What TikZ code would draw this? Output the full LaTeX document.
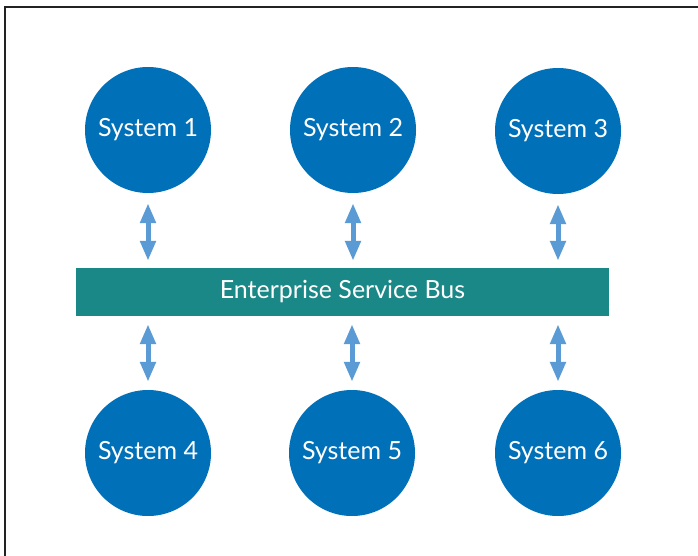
\documentclass[tikz,border=0pt]{standalone}
\usepackage{fontspec}
\setmainfont{Lato}
\usetikzlibrary{arrows.meta}
\definecolor{sysblue}{HTML}{0070B9}
\definecolor{busteal}{HTML}{1A8886}
\definecolor{arrblue}{HTML}{5B9BD5}
\definecolor{frame}{HTML}{222222}
\begin{document}
\begin{tikzpicture}[x=1pt,y=-1pt,
  sys/.style={circle,fill=sysblue,draw=none,minimum size=126pt,inner sep=0pt,text=white,font=\fontsize{25}{30}\selectfont},
  bus/.style={rectangle,fill=busteal,draw=none,minimum width=533pt,minimum height=48pt,inner sep=0pt,text=white,font=\fontsize{25}{30}\selectfont},
  biarrow/.style={draw=arrblue,line width=5pt,{Triangle[length=20pt,width=15pt]}-{Triangle[length=20pt,width=15pt]}}
]
\useasboundingbox (0,0) rectangle (698,556);
\fill[white] (0,0) rectangle (698,556);
\draw[frame,line width=2.5pt] (5,556) -- (5,7) -- (698,7);
\node[sys] (s1) at (148,130) {System 1};
\node[sys] (s2) at (353,130) {System 2};
\node[sys] (s3) at (558,131) {System 3};
\node[sys] (s4) at (148,453) {System 4};
\node[sys] (s5) at (352,453) {System 5};
\node[sys] (s6) at (558,453) {System 6};
\node[bus] (bus) at (342.5,292) {Enterprise Service Bus};
\foreach \s in {s1,s2,s3}{
  \draw[biarrow,shorten <=10pt,shorten >=7pt] (\s.south) -- (\s.south |- bus.north);
}
\foreach \s in {s4,s5,s6}{
  \draw[biarrow,shorten <=8pt,shorten >=8pt] (\s.north |- bus.south) -- (\s.north);
}
\end{tikzpicture}
\end{document}
